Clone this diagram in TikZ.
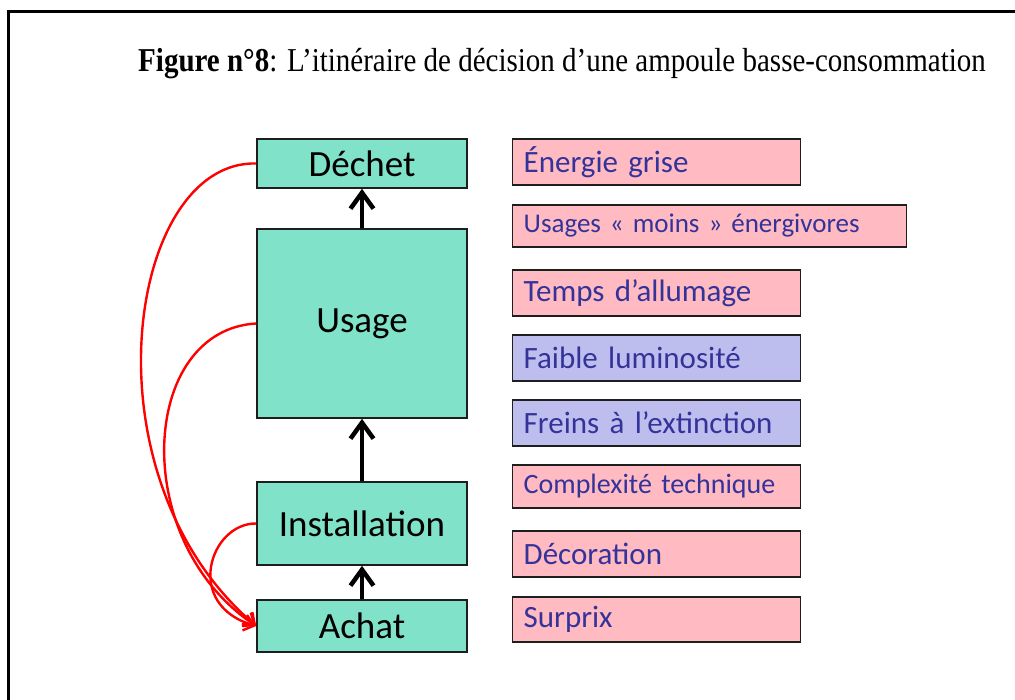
\documentclass[tikz,border=0pt]{standalone}
\usepackage{fontspec}
\setmainfont{Liberation Serif}
\newfontfamily\calib{Carlito}
\usetikzlibrary{positioning,arrows.meta,calc}
\definecolor{etapefill}{RGB}{128,226,200}
\definecolor{freinfill}{RGB}{255,186,194}
\definecolor{attraitfill}{RGB}{190,190,238}
\definecolor{texteblue}{RGB}{51,51,153}
\definecolor{cadre}{RGB}{30,30,30}
\begin{document}
\begin{tikzpicture}[x=1pt,y=-1pt,>={Straight Barb[length=16pt,width=23pt]},
  etape/.style={draw=cadre,line width=1.6pt,fill=etapefill,minimum width=210pt,inner sep=0pt,font=\calib\fontsize{37}{39}\selectfont},
  facteur/.style={draw=cadre,line width=1.4pt,anchor=west,align=left,text width=266pt,inner xsep=11pt,inner ysep=0pt,text=texteblue,font=\calib\fontsize{31}{33}\selectfont},
  frein/.style={facteur,fill=freinfill},
  attrait/.style={facteur,fill=attraitfill},
  fleche/.style={->,line width=4.5pt,black},
  retour/.style={-{Straight Barb[length=10pt,width=16pt]},line width=2.4pt,red}]
\useasboundingbox (0,0) rectangle (1015,700);
\clip (0,0) rectangle (1015,700);
\draw[line width=3pt] (8,760) -- (8,12) -- (1060,12);
\node[anchor=base,font=\fontsize{29}{32}\selectfont] (titre) at (562,72) {\scalebox{1}[1.15]{\textbf{Figure n°8}: L’itinéraire de décision d’une ampoule basse-consommation}};
% les etapes
\node[etape,minimum height=49pt] (dechet) at (362,163.5) {Déchet};
\node[etape,minimum height=189pt] (usage) at (362,323.5) {Usage};
\node[etape,minimum height=83pt] (install) at (362,523.5) {Installation};
\node[etape,minimum height=52pt] (achat) at (362,626) {Achat};
\draw[fleche] (usage) -- (dechet);
\draw[fleche] (install) -- (usage);
\draw[fleche] (achat) -- (install);
% les retours vers l'achat
\draw[retour] (dechet.west) .. controls (128,160) and (80,475) .. (achat.west);
\draw[retour] (usage.west) .. controls (140,330) and (128,540) .. (achat.west);
\draw[retour] (install.west) .. controls (210,523) and (183,605) .. (achat.west);
% les facteurs
\node[frein,minimum height=46pt] (grise) at (512,162) {Énergie grise};
\node[frein,minimum height=42pt,text width=372pt,font=\calib\fontsize{27}{29}\selectfont] (usages) at (512,226) {Usages « moins » énergivores};
\node[frein,minimum height=46pt] (temps) at (512,293) {Temps d’allumage};
\node[attrait,minimum height=46pt] (faible) at (512,358) {Faible luminosité};
\node[attrait,minimum height=46pt] (freins) at (512,423) {Freins à l’extinction};
\node[frein,minimum height=43pt,font=\calib\fontsize{28}{30}\selectfont] (complex) at (512,486.5) {Complexité technique};
\node[frein,minimum height=46pt] (deco) at (512,554) {Décoration};
\node[frein,minimum height=45pt] (surprix) at (512,619.5) {Surprix};
\end{tikzpicture}
\end{document}
